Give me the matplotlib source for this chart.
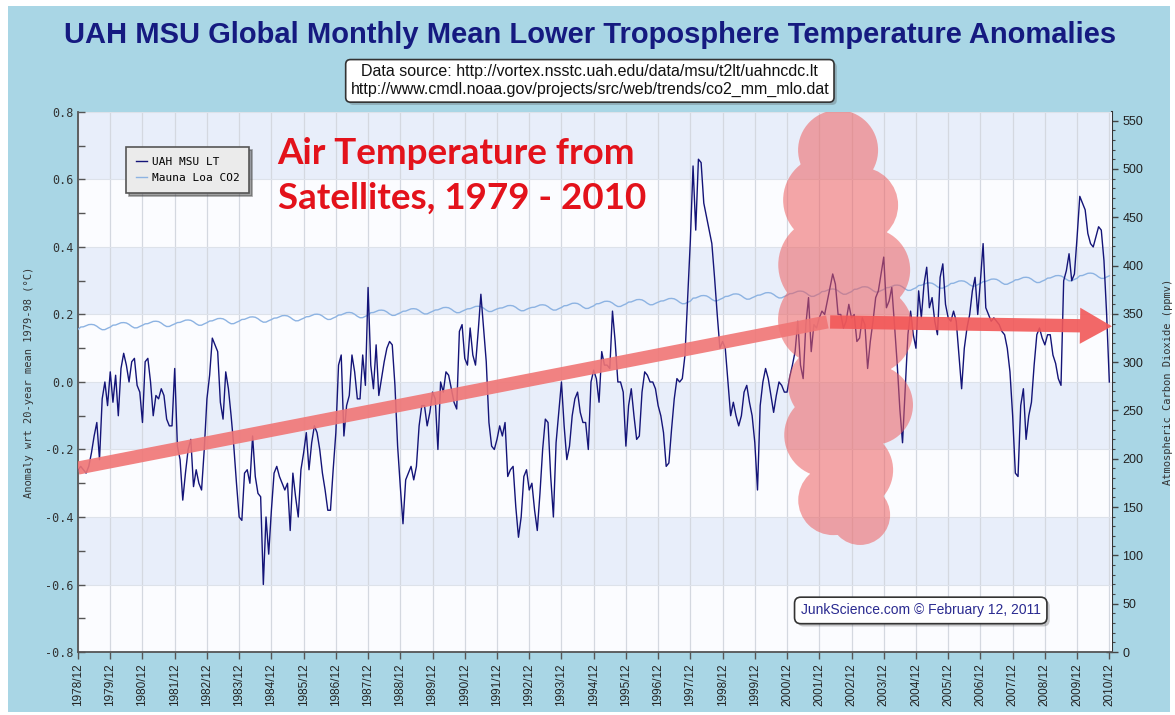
"""UAH MSU lower troposphere anomalies vs Mauna Loa CO2."""
import numpy as np
import matplotlib
matplotlib.use("Agg")
import matplotlib.pyplot as plt
import matplotlib.patheffects as pe
from matplotlib.patches import Rectangle, PathPatch
from matplotlib.path import Path
from matplotlib.ticker import MultipleLocator

# Data =======================================================================

# UAH MSU LT monthly anomaly (deg C, wrt 1979-98), 1978/12 then Jan..Dec
uah_lt = [
    -0.26,
    -0.25, -0.26, -0.27, -0.25, -0.21, -0.16, -0.12, -0.23, -0.05, 0.00, -0.07, 0.03,    # 1979
    -0.06, 0.02, -0.10, 0.04, 0.085, 0.05, 0.00, 0.06, 0.07, -0.01, -0.03, -0.12,        # 1980
    0.06, 0.07, 0.00, -0.10, -0.04, -0.05, -0.02, -0.04, -0.11, -0.13, -0.13, 0.04,      # 1981
    -0.19, -0.23, -0.35, -0.27, -0.20, -0.17, -0.31, -0.26, -0.30, -0.32, -0.20, -0.05,  # 1982
    0.02, 0.13, 0.11, 0.09, -0.06, -0.11, 0.03, -0.02, -0.10, -0.19, -0.30, -0.40,       # 1983
    -0.41, -0.27, -0.26, -0.30, -0.16, -0.28, -0.33, -0.34, -0.60, -0.40, -0.51, -0.38,  # 1984
    -0.27, -0.25, -0.28, -0.30, -0.32, -0.30, -0.44, -0.27, -0.34, -0.40, -0.26, -0.21,  # 1985
    -0.15, -0.26, -0.18, -0.13, -0.15, -0.20, -0.27, -0.32, -0.38, -0.38, -0.26, -0.15,  # 1986
    0.05, 0.08, -0.16, -0.07, -0.04, 0.08, 0.03, -0.05, -0.05, 0.08, -0.01, 0.28,        # 1987
    0.05, -0.02, 0.11, -0.04, 0.01, 0.06, 0.10, 0.12, 0.11, -0.01, -0.19, -0.31,         # 1988
    -0.42, -0.29, -0.27, -0.25, -0.29, -0.25, -0.13, -0.07, -0.07, -0.13, -0.09, -0.03,  # 1989
    -0.05, -0.20, 0.00, -0.03, 0.03, 0.02, -0.02, -0.06, -0.08, 0.15, 0.17, 0.07,        # 1990
    0.05, 0.16, 0.08, 0.05, 0.15, 0.26, 0.16, 0.06, -0.12, -0.19, -0.20, -0.17,          # 1991
    -0.13, -0.16, -0.12, -0.28, -0.26, -0.25, -0.37, -0.46, -0.40, -0.28, -0.26, -0.32,  # 1992
    -0.30, -0.38, -0.44, -0.33, -0.20, -0.11, -0.12, -0.28, -0.40, -0.18, -0.09, 0.00,   # 1993
    -0.13, -0.23, -0.19, -0.10, -0.05, -0.03, -0.09, -0.12, -0.12, -0.20, 0.00, 0.035,   # 1994
    0.01, -0.06, 0.09, 0.05, 0.05, 0.04, 0.21, 0.12, 0.00, 0.00, -0.03, -0.19,           # 1995
    -0.07, -0.02, -0.10, -0.17, -0.16, -0.03, 0.03, 0.02, 0.00, 0.00, -0.02, -0.07,      # 1996
    -0.10, -0.15, -0.25, -0.24, -0.14, -0.05, 0.01, 0.00, 0.01, 0.08, 0.25, 0.42,        # 1997
    0.64, 0.45, 0.66, 0.65, 0.53, 0.49, 0.45, 0.41, 0.31, 0.20, 0.10, 0.12,              # 1998
    0.10, 0.00, -0.10, -0.06, -0.10, -0.13, -0.10, -0.03, -0.01, -0.06, -0.10, -0.18,    # 1999
    -0.32, -0.07, 0.00, 0.04, 0.01, -0.04, -0.09, -0.04, 0.00, -0.01, -0.03, -0.03,      # 2000
    0.015, 0.05, 0.09, 0.18, 0.05, 0.01, 0.17, 0.25, 0.09, 0.17, 0.16, 0.19,             # 2001
    0.21, 0.20, 0.24, 0.28, 0.32, 0.29, 0.20, 0.20, 0.16, 0.18, 0.23, 0.19,              # 2002
    0.20, 0.12, 0.13, 0.19, 0.17, 0.04, 0.12, 0.18, 0.25, 0.27, 0.32, 0.37,              # 2003
    0.22, 0.24, 0.28, 0.17, 0.055, -0.08, -0.18, -0.02, 0.14, 0.21, 0.14, 0.10,          # 2004
    0.27, 0.19, 0.29, 0.34, 0.22, 0.25, 0.18, 0.14, 0.31, 0.35, 0.23, 0.19,              # 2005
    0.18, 0.21, 0.18, 0.08, -0.02, 0.10, 0.16, 0.20, 0.27, 0.31, 0.20, 0.30,             # 2006
    0.41, 0.22, 0.20, 0.18, 0.19, 0.18, 0.17, 0.15, 0.14, 0.10, 0.03, -0.10,             # 2007
    -0.27, -0.28, -0.07, -0.02, -0.17, -0.10, -0.06, 0.05, 0.14, 0.16, 0.13, 0.11,       # 2008
    0.14, 0.14, 0.08, 0.055, 0.01, -0.01, 0.30, 0.33, 0.38, 0.30, 0.32, 0.43,            # 2009
    0.55, 0.53, 0.51, 0.44, 0.41, 0.40, 0.43, 0.46, 0.45, 0.36, 0.20, 0.00,              # 2010
]

# Mauna Loa CO2 monthly mean (ppmv), same months
co2_ppmv = [
    333.9,
    336.4, 336.6, 337.7, 338.9, 339.1, 338.7, 337.2, 335.1, 333.6, 333.7, 335.1, 336.3,  # 1979
    338.3, 338.5, 339.6, 340.8, 341.0, 340.6, 339.1, 337.0, 335.5, 335.6, 337.0, 338.2,  # 1980
    339.7, 339.9, 341.0, 342.2, 342.4, 342.0, 340.5, 338.4, 336.9, 337.0, 338.4, 339.6,  # 1981
    341.0, 341.2, 342.3, 343.5, 343.7, 343.3, 341.8, 339.7, 338.2, 338.3, 339.7, 340.9,  # 1982
    342.6, 342.8, 343.9, 345.1, 345.3, 344.9, 343.4, 341.3, 339.8, 339.9, 341.3, 342.5,  # 1983
    344.2, 344.4, 345.5, 346.7, 346.9, 346.5, 345.0, 342.9, 341.4, 341.5, 342.9, 344.1,  # 1984
    345.6, 345.8, 346.9, 348.1, 348.3, 347.9, 346.4, 344.3, 342.8, 342.9, 344.3, 345.5,  # 1985
    347.0, 347.2, 348.3, 349.5, 349.7, 349.3, 347.8, 345.7, 344.2, 344.3, 345.7, 346.9,  # 1986
    348.8, 349.0, 350.1, 351.3, 351.5, 351.1, 349.6, 347.5, 346.0, 346.1, 347.5, 348.7,  # 1987
    351.2, 351.4, 352.5, 353.7, 353.9, 353.5, 352.0, 349.9, 348.4, 348.5, 349.9, 351.1,  # 1988
    352.7, 352.9, 354.0, 355.2, 355.4, 355.0, 353.5, 351.4, 349.9, 350.0, 351.4, 352.6,  # 1989
    354.0, 354.2, 355.3, 356.5, 356.7, 356.3, 354.8, 352.7, 351.2, 351.3, 352.7, 353.9,  # 1990
    355.2, 355.4, 356.5, 357.7, 357.9, 357.5, 356.0, 353.9, 352.4, 352.5, 353.9, 355.1,  # 1991
    356.0, 356.2, 357.3, 358.5, 358.7, 358.3, 356.8, 354.7, 353.2, 353.3, 354.7, 355.9,  # 1992
    356.7, 356.9, 358.0, 359.2, 359.4, 359.0, 357.5, 355.4, 353.9, 354.0, 355.4, 356.6,  # 1993
    358.4, 358.6, 359.7, 360.9, 361.1, 360.7, 359.2, 357.1, 355.6, 355.7, 357.1, 358.3,  # 1994
    360.4, 360.6, 361.7, 362.9, 363.1, 362.7, 361.2, 359.1, 357.6, 357.7, 359.1, 360.3,  # 1995
    362.2, 362.4, 363.5, 364.7, 364.9, 364.5, 363.0, 360.9, 359.4, 359.5, 360.9, 362.1,  # 1996
    363.3, 363.5, 364.6, 365.8, 366.0, 365.6, 364.1, 362.0, 360.5, 360.6, 362.0, 363.2,  # 1997
    366.3, 366.5, 367.6, 368.8, 369.0, 368.6, 367.1, 365.0, 363.5, 363.6, 365.0, 366.2,  # 1998
    368.0, 368.2, 369.3, 370.5, 370.7, 370.3, 368.8, 366.7, 365.2, 365.3, 366.7, 367.9,  # 1999
    369.3, 369.5, 370.6, 371.8, 372.0, 371.6, 370.1, 368.0, 366.5, 366.6, 368.0, 369.2,  # 2000
    370.9, 371.1, 372.2, 373.4, 373.6, 373.2, 371.7, 369.6, 368.1, 368.2, 369.6, 370.8,  # 2001
    373.1, 373.3, 374.4, 375.6, 375.8, 375.4, 373.9, 371.8, 370.3, 370.4, 371.8, 373.0,  # 2002
    375.4, 375.6, 376.7, 377.9, 378.1, 377.7, 376.2, 374.1, 372.6, 372.7, 374.1, 375.3,  # 2003
    377.1, 377.3, 378.4, 379.6, 379.8, 379.4, 377.9, 375.8, 374.3, 374.4, 375.8, 377.0,  # 2004
    379.4, 379.6, 380.7, 381.9, 382.1, 381.7, 380.2, 378.1, 376.6, 376.7, 378.1, 379.3,  # 2005
    381.5, 381.7, 382.8, 384.0, 384.2, 383.8, 382.3, 380.2, 378.7, 378.8, 380.2, 381.4,  # 2006
    383.4, 383.6, 384.7, 385.9, 386.1, 385.7, 384.2, 382.1, 380.6, 380.7, 382.1, 383.3,  # 2007
    385.2, 385.4, 386.5, 387.7, 387.9, 387.5, 386.0, 383.9, 382.4, 382.5, 383.9, 385.1,  # 2008
    387.0, 387.2, 388.3, 389.5, 389.7, 389.3, 387.8, 385.7, 384.2, 384.3, 385.7, 386.9,  # 2009
    389.5, 389.7, 390.8, 392.0, 392.2, 391.8, 390.3, 388.2, 386.7, 386.8, 388.2, 389.4,  # 2010
]

tick_labels = [
    "1978/12", "1979/12", "1980/12", "1981/12", "1982/12", "1983/12", "1984/12",
    "1985/12", "1986/12", "1987/12", "1988/12", "1989/12", "1990/12", "1991/12",
    "1992/12", "1993/12", "1994/12", "1995/12", "1996/12", "1997/12", "1998/12",
    "1999/12", "2000/12", "2001/12", "2002/12", "2003/12", "2004/12", "2005/12",
    "2006/12", "2007/12", "2008/12", "2009/12", "2010/12",
]
y_ticks = [-0.8, -0.6, -0.4, -0.2, 0.0, 0.2, 0.4, 0.6, 0.8]
y_labels = ["-0.8", "-0.6", "-0.4", "-0.2", "0.0", "0.2", "0.4", "0.6", "0.8"]

# hand-drawn trend arrow (month index, anomaly)
trend_up = [(0, -0.255), (279, 0.178)]
trend_flat = [(279, 0.178), (386, 0.165)]

# pink "cloud" drawn over 2001-2004: (month index, anomaly, radius in px)
blob = [
    (283.0, 0.687, 40), (279.3, 0.539, 45), (291.2, 0.524, 38),
    (278.6, 0.347, 48), (294.2, 0.332, 42), (277.4, 0.184, 45),
    (294.2, 0.154, 45), (279.3, -0.009, 40), (296.0, -0.068, 40),
    (278.6, -0.157, 42), (288.6, -0.261, 40), (281.2, -0.350, 35),
    (291.2, -0.394, 30),
]

# Plot =======================================================================

BG = "#a9d6e5"
NAVY = "#141478"

fig = plt.figure(figsize=(11.75, 7.15), dpi=100, facecolor="white")
fig.patches.append(Rectangle((0.007, 0.004), 0.989, 0.988, transform=fig.transFigure,
                             facecolor=BG, edgecolor="none", zorder=-10))

ax = fig.add_axes([0.0664, 0.0881, 0.88, 0.7553])
ax.set_facecolor("#fbfcff")
months = np.arange(len(uah_lt))

ax.set_xlim(0, 385)
ax.set_ylim(-0.8, 0.8)

# alternating bands
for hi in (-0.4, 0.0, 0.4, 0.8):
    ax.axhspan(hi - 0.2, hi, color="#e8eefa", zorder=0, lw=0)
ax.set_xticks(np.arange(0, 385, 12))
ax.set_xticklabels(tick_labels, rotation=90, fontsize=8.5, family="Liberation Sans",
                   color="#222222")
ax.set_yticks(y_ticks)
ax.set_yticklabels(y_labels, family="DejaVu Sans Mono", fontsize=8.5, color="#333333")
ax.yaxis.set_minor_locator(MultipleLocator(0.1))
ax.grid(True, axis="x", color="#d4d8e0", lw=0.9, zorder=1)
ax.grid(True, axis="y", color="#dde2ea", lw=0.8, zorder=1)
ax.tick_params(axis="y", which="both", direction="in", length=5, width=1, color="#555555")
ax.tick_params(axis="x", direction="out", length=5, width=1, color="#555555", pad=3)
for s in ("left", "bottom"):
    ax.spines[s].set_color("#555555")
    ax.spines[s].set_linewidth(1.3)
ax.spines["top"].set_visible(False)
ax.spines["right"].set_visible(False)
ax.set_ylabel("Anomaly wrt 20-year mean 1979-98 (\u00b0C)", family="DejaVu Sans Mono",
              fontsize=7.5, color="#333333", labelpad=8)

ax2 = ax.twinx()
ax2.set_ylim(0, 559)
ax2.set_yticks(np.arange(0, 551, 50))
ax2.yaxis.set_minor_locator(MultipleLocator(10))
ax2.tick_params(axis="y", which="major", direction="inout", length=8, width=1,
                color="#444444", labelsize=9, labelcolor="#222222")
ax2.tick_params(axis="y", which="minor", direction="inout", length=5, width=0.8,
                color="#444444")
for lab in ax2.get_yticklabels():
    lab.set_family("Liberation Sans")
ax2.spines["right"].set_color("#333333")
ax2.spines["right"].set_linewidth(1.5)
for s in ("left", "top", "bottom"):
    ax2.spines[s].set_visible(False)
ax2.set_ylabel("Atmospheric Carbon Dioxide (ppmv)", family="DejaVu Sans Mono",
               fontsize=7.5, color="#333333", rotation=90, labelpad=14)
ax.set_zorder(ax2.get_zorder() + 1)
ax2.patch.set_visible(False)

co2_line, = ax.plot(months, co2_ppmv, color="#8db3e2", lw=1.0, zorder=3,
                    transform=ax2.transData)
uah_line, = ax.plot(months, uah_lt, color=NAVY, lw=1.0, zorder=4)

# pink cloud: union of round lobes (sized in pixels), one translucent fill
fig.canvas.draw()
p0 = ax.transData.transform((0, 0))
p1 = ax.transData.transform((1, 1))
sx, sy = p1[0] - p0[0], p1[1] - p0[1]
unit = Path.unit_circle()
lobes = [Path(unit.vertices * [r / sx, r / sy] + [mx, val], unit.codes)
         for mx, val, r in blob]
ax.add_patch(PathPatch(Path.make_compound_path(*lobes), facecolor="#ee5f5f",
                       edgecolor="none", alpha=0.55, zorder=5))

# trend arrow
(x0, y0), (x1, y1) = trend_up
ax.plot([x0, x1], [y0, y1], color="#f07575", lw=9.5, alpha=0.9,
        solid_capstyle="butt", zorder=6)
ax.annotate("", xy=trend_flat[1], xytext=trend_flat[0], annotation_clip=False,
            arrowprops=dict(arrowstyle="simple,head_length=1.15,head_width=1.3,tail_width=0.48",
                            mutation_scale=20, color="#f25858", alpha=0.9, lw=0),
            zorder=7)

leg = ax.legend([uah_line, co2_line], ["UAH MSU LT", "Mauna Loa CO2"],
                loc="upper left", bbox_to_anchor=(0.041, 0.945), fancybox=False,
                shadow=True, framealpha=1, facecolor="#ebebeb", edgecolor="#555555",
                prop={"family": "DejaVu Sans Mono", "size": 8},
                handlelength=1.0, handletextpad=0.4, borderpad=0.9, labelspacing=0.5)
leg.get_frame().set_linewidth(1.2)
leg.set_zorder(10)

ax.text(0.193, 0.953, "Air Temperature from\nSatellites, 1979 - 2010",
        transform=ax.transAxes, ha="left", va="top", color="#e3121b",
        fontsize=26.5, fontweight="bold", family="Lato", linespacing=1.42, zorder=10)

js = ax.text(0.815, 0.077, "JunkScience.com \u00a9 February 12, 2011",
             transform=ax.transAxes, ha="center", va="center", color="#2a2a90",
             fontsize=10, family="Liberation Sans", zorder=10,
             bbox=dict(boxstyle="round,pad=0.45", facecolor="white",
                       edgecolor="#333333", lw=1.2))
js.get_bbox_patch().set_path_effects([pe.withSimplePatchShadow(offset=(2, -2))])

fig.text(0.502, 0.951, "UAH MSU Global Monthly Mean Lower Troposphere Temperature Anomalies",
         ha="center", va="center", color="#151a80", fontsize=21, fontweight="bold",
         family="Liberation Sans")
src = fig.text(0.502, 0.887,
               "Data source: http://vortex.nsstc.uah.edu/data/msu/t2lt/uahncdc.lt\n"
               "http://www.cmdl.noaa.gov/projects/src/web/trends/co2_mm_mlo.dat",
               ha="center", va="center", color="#111111", fontsize=11.5,
               family="Liberation Sans", linespacing=1.25,
               bbox=dict(boxstyle="round,pad=0.3", facecolor="white",
                         edgecolor="#333333", lw=1.2))
src.get_bbox_patch().set_path_effects([pe.withSimplePatchShadow(offset=(2, -2))])

fig.savefig("out.png", dpi=100, facecolor=fig.get_facecolor())
